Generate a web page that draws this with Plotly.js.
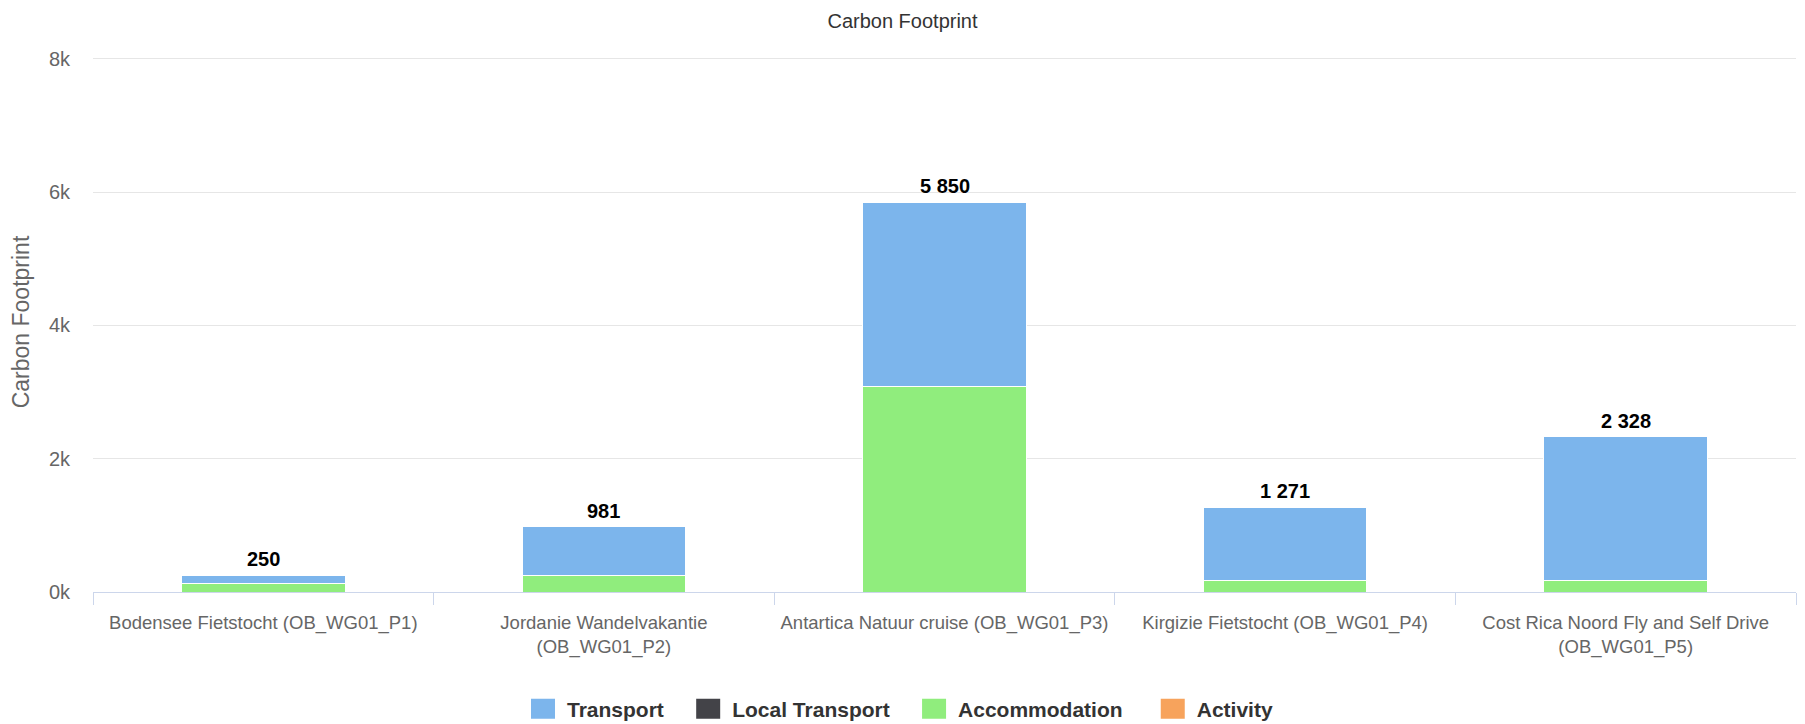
<!DOCTYPE html>
<html>
<head>
<meta charset="utf-8">
<script src="https://cdn.plot.ly/plotly-3.0.1.min.js"></script>
<style>
  html, body { margin: 0; padding: 0; background: #ffffff; }
  #chart { width: 1805px; height: 724px; }
</style>
</head>
<body>
<div id="chart"></div>
<script>
// ---- data ----
const categories = [
  'Bodensee Fietstocht (OB_WG01_P1)',
  'Jordanie Wandelvakantie<br>(OB_WG01_P2)',
  'Antartica Natuur cruise (OB_WG01_P3)',
  'Kirgizie Fietstocht (OB_WG01_P4)',
  'Cost Rica Noord Fly and Self Drive<br>(OB_WG01_P5)'
];
const seriesNames    = ['Transport', 'Local Transport', 'Accommodation', 'Activity'];
const transport      = [125, 736, 2760, 1101, 2153];
const localTransport = [0, 0, 0, 0, 0];
const accommodation  = [125, 245, 3090, 170, 175];
const activity       = [0, 0, 0, 0, 0];
const yTickValues = [0, 2000, 4000, 6000, 8000];
const yTickLabels = ['0k', '2k', '4k', '6k', '8k'];

const totals = categories.map((c, i) => transport[i] + localTransport[i] + accommodation[i] + activity[i]);
const fmt = n => String(n).replace(/\B(?=(\d{3})+(?!\d))/g, ' ');

const FONT = '"Liberation Sans", Arial, sans-serif';
// legend spacing padding (non-breaking spaces after the name)
const pad = k => '\u00a0'.repeat(k);

function barTrace(name, values, color, lw) {
  return {
    type: 'bar', name: name, x: categories, y: values,
    marker: { color: color, line: { color: '#ffffff', width: lw } },
    hoverinfo: 'name+y'
  };
}

// stacked bottom-to-top; legend reversed so it reads Transport, Local Transport, Accommodation, Activity
const traces = [
  barTrace(seriesNames[3], activity, '#f7a35c', 0),
  barTrace(seriesNames[2] + pad(5), accommodation, '#90ed7d', 1),
  barTrace(seriesNames[1] + pad(4), localTransport, '#434348', 0),
  barTrace(seriesNames[0] + pad(4), transport, '#7cb5ec', 1)
];

const annotations = categories.map((c, i) => ({
  x: c, y: totals[i], xref: 'x', yref: 'y',
  text: fmt(totals[i]), showarrow: false,
  yanchor: 'bottom', yshift: 3,
  font: { family: FONT, size: 20, color: '#000000', weight: 'bold' }
}));

const layout = {
  width: 1805, height: 724,
  paper_bgcolor: '#ffffff', plot_bgcolor: '#ffffff',
  font: { family: FONT, color: '#666666' },
  margin: { l: 93, r: 9, t: 52, b: 132 },
  barmode: 'stack',
  bargap: 0.52,
  title: {
    text: 'Carbon Footprint',
    x: 0.5, xref: 'container', xanchor: 'center',
    y: 1 - 21 / 724, yref: 'container', yanchor: 'middle',
    font: { family: FONT, size: 20, color: '#333333' }
  },
  xaxis: {
    type: 'category',
    tickson: 'boundaries',
    tickangle: 0,
    ticks: 'outside', ticklen: 12, tickcolor: '#ccd6eb', tickwidth: 1,
    ticklabelstandoff: 14,
    showline: true, linecolor: '#ccd6eb', linewidth: 1,
    showgrid: false, zeroline: false,
    tickfont: { family: FONT, size: 18.5, color: '#666666' },
    automargin: false
  },
  yaxis: {
    range: [0, 8100],
    tickvals: yTickValues, ticktext: yTickLabels,
    gridcolor: '#e6e6e6', gridwidth: 1,
    zeroline: false, showline: false,
    ticks: 'outside', ticklen: 18, tickcolor: 'rgba(0,0,0,0)',
    tickfont: { family: FONT, size: 20, color: '#666666' },
    title: { text: 'Carbon Footprint', standoff: 12,
             font: { family: FONT, size: 23, color: '#666666' } },
    automargin: false
  },
  legend: {
    orientation: 'h',
    traceorder: 'reversed',
    xref: 'container', x: 0.5, xanchor: 'center',
    yref: 'container', y: 15 / 724, yanchor: 'middle',
    font: { family: FONT, size: 21, color: '#333333', weight: 'bold' }
  },
  annotations: annotations,
  showlegend: true
};

Plotly.newPlot('chart', traces, layout, { displayModeBar: false, staticPlot: true }).then(() => {
  document.querySelectorAll('.legendpoints path').forEach(p => {
    p.setAttribute('d', 'M8,10H-16V-10H8Z');
    p.style.strokeWidth = '0px';
  });
});
</script>
</body>
</html>
